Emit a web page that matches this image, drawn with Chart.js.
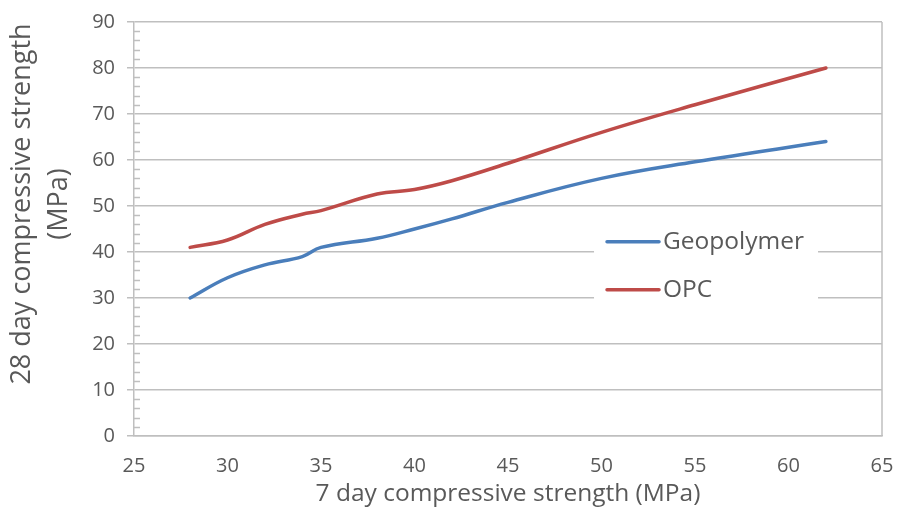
<!DOCTYPE html>
<html>
<head>
<meta charset="utf-8">
<script src="https://cdn.jsdelivr.net/npm/chart.js@4.4.1/dist/chart.umd.min.js"></script>
<style>
  html, body { margin: 0; padding: 0; background: #fff; }
  #wrap { width: 898px; height: 509px; }
</style>
</head>
<body>
<div id="wrap"><canvas id="chart"></canvas></div>
<script>
// 7 day strength (x) shared by both mixes, 28 day strength per mix (y)
const strength7 = [28, 30, 32, 34, 35, 38, 40, 42, 45, 50, 55, 62];
const geopolymer28 = [30, 34.4, 37.2, 39, 41, 43, 45, 47.2, 50.8, 56, 59.6, 64];
const opc28 = [41, 42.6, 46, 48.2, 49, 52.6, 53.6, 55.5, 59.3, 66, 72, 80];

const seriesNames = ["Geopolymer", "OPC"];
const xRange = [25, 65, 5];   // min, max, step
const yRange = [0, 90, 10];
const yMinorStep = 2;

const xTitle = "7 day compressive strength (MPa)";
const yTitle = ["28 day compressive strength", "(MPa)"];

const textColor = "#595959";
const gridColor = "#bfbfbf";
const fontFamily = "'Open Sans', 'Liberation Sans', sans-serif";
const colors = ["#4a7ebb", "#be4b48"];

function toPoints(ys) {
    return strength7.map((x, i) => ({ x: x, y: ys[i] }));
}

// small inner ticks between the labelled values on the y axis
const minorTicks = {
    id: "minorTicks",
    afterDraw(chart) {
        const ctx = chart.ctx;
        const y = chart.scales.y;
        const left = chart.chartArea.left;
        ctx.save();
        ctx.strokeStyle = gridColor;
        ctx.lineWidth = 1.5;
        for (let v = yRange[0]; v <= yRange[1]; v += yMinorStep) {
            if (v % yRange[2] === 0) continue;
            const py = Math.round(y.getPixelForValue(v)) + 0.5;
            ctx.beginPath();
            ctx.moveTo(left, py);
            ctx.lineTo(left + 6, py);
            ctx.stroke();
        }
        ctx.restore();
    }
};

// right edge of the plot frame
const plotFrame = {
    id: "plotFrame",
    beforeDatasetsDraw(chart) {
        const { ctx, chartArea } = chart;
        ctx.save();
        ctx.strokeStyle = gridColor;
        ctx.lineWidth = 1.5;
        ctx.beginPath();
        ctx.moveTo(chartArea.right, chartArea.top);
        ctx.lineTo(chartArea.right, chartArea.bottom);
        ctx.stroke();
        ctx.restore();
    }
};

// legend sitting inside the plot, on a white box over the gridlines
const innerLegend = {
    id: "innerLegend",
    afterDatasetsDraw(chart) {
        const { ctx, chartArea } = chart;
        const w = chartArea.right - chartArea.left;
        const h = chartArea.bottom - chartArea.top;
        const boxX = chartArea.left + w * 0.615;
        const boxY = chartArea.top + h * 0.49;
        const boxW = 224;
        const rowH = 48;
        ctx.save();
        ctx.fillStyle = "#fff";
        ctx.fillRect(boxX, boxY, boxW, rowH * 2 - 4);
        ctx.font = "24.5px " + fontFamily;
        ctx.textBaseline = "middle";
        ctx.textAlign = "left";
        chart.data.datasets.forEach((ds, i) => {
            const cy = boxY + 17 + i * rowH;
            ctx.strokeStyle = ds.borderColor;
            ctx.lineWidth = 3.5;
            ctx.lineCap = "round";
            ctx.beginPath();
            ctx.moveTo(boxX + 13, cy);
            ctx.lineTo(boxX + 65, cy);
            ctx.stroke();
            ctx.fillStyle = textColor;
            ctx.fillText(ds.label, boxX + 69, cy);
        });
        ctx.restore();
    }
};

// two-line rotated title for the y axis
const yAxisTitle = {
    id: "yAxisTitle",
    afterDraw(chart) {
        const { ctx, chartArea } = chart;
        const cy = (chartArea.top + chartArea.bottom) / 2 - 25;
        ctx.save();
        ctx.font = "27px " + fontFamily;
        ctx.fillStyle = textColor;
        ctx.textAlign = "center";
        ctx.textBaseline = "middle";
        yTitle.forEach((line, i) => {
            ctx.save();
            ctx.translate(22 + i * 37, cy);
            ctx.rotate(-Math.PI / 2);
            ctx.fillText(line, 0, 0);
            ctx.restore();
        });
        ctx.restore();
    }
};

const ctx = document.getElementById("chart").getContext("2d");
new Chart(ctx, {
    type: "scatter",
    data: {
        datasets: [
            {
                label: seriesNames[0],
                data: toPoints(geopolymer28),
                borderColor: colors[0],
                backgroundColor: colors[0]
            },
            {
                label: seriesNames[1],
                data: toPoints(opc28),
                borderColor: colors[1],
                backgroundColor: colors[1]
            }
        ]
    },
    options: {
        responsive: true,
        maintainAspectRatio: false,
        animation: false,
        devicePixelRatio: 1,
        showLine: true,
        elements: {
            point: { radius: 0, hoverRadius: 0 },
            line: { borderWidth: 3.5, tension: 0.4, borderCapStyle: "round" }
        },
        layout: { padding: { top: 22, right: 16, left: 0, bottom: 0 } },
        plugins: {
            legend: { display: false },
            tooltip: { enabled: false }
        },
        scales: {
            x: {
                type: "linear",
                min: xRange[0],
                max: xRange[1],
                ticks: {
                    stepSize: xRange[2],
                    color: textColor,
                    font: { family: fontFamily, size: 20 },
                    padding: 18,
                    maxRotation: 0
                },
                grid: { display: false, drawTicks: false },
                border: { display: true, color: gridColor, width: 1.5 },
                title: {
                    display: true,
                    text: xTitle,
                    color: textColor,
                    font: { family: fontFamily, size: 24.5 },
                    padding: { top: 0, bottom: 0 }
                },
                afterFit(scale) {
                    scale.height = 73;
                    scale.paddingLeft = 0;
                    scale.paddingRight = 0;
                }
            },
            y: {
                type: "linear",
                min: yRange[0],
                max: yRange[1],
                ticks: {
                    stepSize: yRange[2],
                    color: textColor,
                    font: { family: fontFamily, size: 20 },
                    padding: 12
                },
                grid: {
                    color: gridColor,
                    lineWidth: 1.5,
                    tickLength: 7,
                    tickColor: gridColor
                },
                border: { display: true, color: gridColor, width: 1.5 },
                afterFit(scale) {
                    scale.width = 134;
                    scale.paddingTop = 0;
                    scale.paddingBottom = 0;
                }
            }
        }
    },
    plugins: [plotFrame, minorTicks, innerLegend, yAxisTitle]
});
</script>
</body>
</html>
